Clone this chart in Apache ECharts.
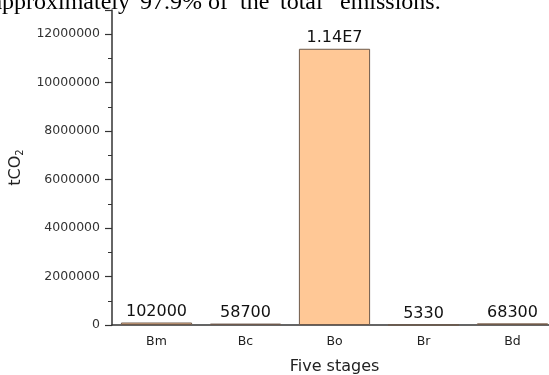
<!DOCTYPE html>
<html>
<head>
<meta charset="utf-8">
<script src="https://cdn.jsdelivr.net/npm/echarts@6/dist/echarts.min.js"></script>
<style>
  html, body { margin: 0; padding: 0; background: #fff; }
  #chart { width: 549px; height: 375px; }
</style>
</head>
<body>
<div id="chart"></div>
<script>
// five stages and their emissions (tCO2)
const stages = ['Bm', 'Bc', 'Bo', 'Br', 'Bd']
const emissions = [102000, 58700, 11400000, 5330, 68300]
const valueLabels = ['102000', '58700', '1.14E7', '5330', '68300']
const yTicks = [0, 2000000, 4000000, 6000000, 8000000, 10000000, 12000000]

// cut-off caption line above the figure (justified text, so words placed one by one)
const captionWords = ['approximately', '97.9%', 'of', 'the', 'total', 'emissions.']
const captionLeft = [null, 140, 208, 240, 280, 340]

const chart = echarts.init(document.getElementById('chart'))

const captionFont = '24px "Liberation Serif", "Times New Roman", serif'
const caption = captionWords.map((w, i) => ({
  type: 'text',
  style: {
    text: w,
    x: i === 0 ? 130 : captionLeft[i],
    y: 15,
    textAlign: i === 0 ? 'right' : 'left',
    textVerticalAlign: 'bottom',
    font: captionFont,
    fill: '#000'
  }
}))

const option = {
  animation: false,
  textStyle: { fontFamily: 'DejaVu Sans, Arial, sans-serif' },
  graphic: caption,
  grid: { left: 112, right: -8, top: 10, bottom: 50, outerBoundsMode: 'none', containLabel: false },
  xAxis: [
    {
      type: 'category',
      data: stages,
      name: 'Five stages',
      nameLocation: 'middle',
      nameGap: 34,
      nameTextStyle: { fontSize: 16, color: '#222' },
      axisLine: { lineStyle: { color: '#333', width: 1.5 } },
      axisTick: { alignWithLabel: true, length: 5, lineStyle: { color: '#333', width: 1.5 } },
      axisLabel: { fontSize: 12.5, color: '#222', margin: 10 }
    },
    {
      type: 'category',
      data: stages,
      position: 'bottom',
      axisLine: { show: false },
      axisTick: { inside: true, length: 3, lineStyle: { color: '#333' } },
      axisLabel: { show: false }
    }
  ],
  yAxis: {
    type: 'value',
    min: 0,
    max: 13000000,
    interval: 2000000,
    name: '{a|tCO}{s|2}',
    nameLocation: 'middle',
    nameGap: 70,
    nameTextStyle: {
      rich: {
        a: { fontSize: 16, color: '#222' },
        s: { fontSize: 10, color: '#222', padding: [9, 0, 0, 0] }
      }
    },
    axisLine: { show: true, lineStyle: { color: '#333', width: 1.5 } },
    axisTick: { show: true, length: 7, lineStyle: { color: '#333', width: 1.2 } },
    minorTick: { show: true, splitNumber: 2, length: 4, lineStyle: { color: '#333' } },
    splitLine: { show: false },
    axisLabel: {
      fontSize: 12.5,
      color: '#333',
      margin: 12,
      formatter: v => (yTicks.indexOf(v) >= 0 ? String(v) : '')
    }
  },
  series: [
    {
      type: 'bar',
      data: emissions,
      barCategoryGap: '20%',
      itemStyle: { color: '#FFC896', borderColor: '#6e5a4c', borderWidth: 1 },
      label: {
        show: true,
        position: 'top',
        distance: 3,
        fontSize: 16,
        color: '#111',
        formatter: p => valueLabels[p.dataIndex]
      }
    }
  ]
}

chart.setOption(option)
</script>
</body>
</html>
